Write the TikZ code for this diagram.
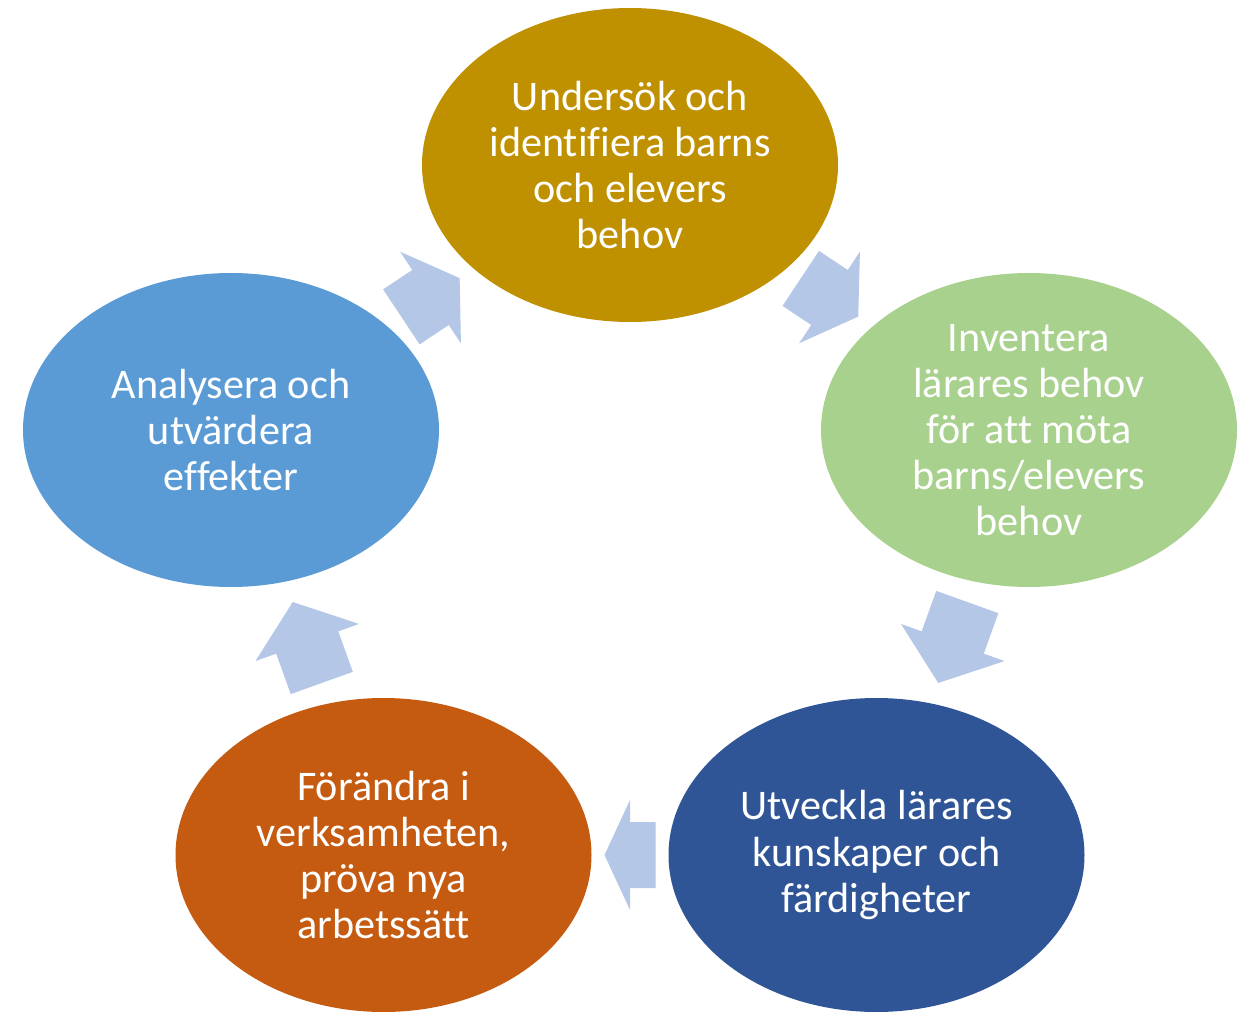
\documentclass[tikz,border=0pt]{standalone}
\usepackage{fontspec}
\setmainfont{Carlito}[Ligatures=NoCommon]
\usepackage{xcolor}
\usepackage{tikz}
\usetikzlibrary{shapes}
\usetikzlibrary{calc}

\definecolor{guld}{HTML}{BF9000}
\definecolor{gron}{HTML}{A9D18E}
\definecolor{morkbla}{HTML}{2F5597}
\definecolor{orange}{HTML}{C55A11}
\definecolor{bla}{HTML}{5B9BD5}
\definecolor{pilbla}{HTML}{B4C7E7}

\tikzset{
  blockarrow/.pic={
    \fill[pilbla] (-#1/2,-0.66) -- (0,-0.66) -- (0,-1.1) -- (#1/2,0)
      -- (0,1.1) -- (0,0.66) -- (-#1/2,0.66) -- cycle;
  }
}

\begin{document}
\begin{tikzpicture}
    \useasboundingbox (0,0) rectangle (24.96,20.22);
    \begin{scope}[every node/.style={ellipse,minimum width=8.32cm,minimum height=6.28cm,inner sep=0pt,text=white,align=center,font=\fontsize{24}{26.2}\selectfont}]
    \node[fill=guld] (und) at (12.60,16.92) {Undersök och\\identifiera barns\\och elevers\\behov};
    \node[fill=gron] (inv) at (20.58,11.62) {Inventera\\lärares behov\\för att möta\\barns/elevers\\behov};
    \node[fill=morkbla] (utv) at (17.53,3.12) {Utveckla lärares\\kunskaper och\\färdigheter};
    \node[fill=orange] (for) at (7.67,3.12) {Förändra i\\verksamheten,\\pröva nya\\arbetssätt};
    \node[fill=bla] (ana) at (4.62,11.62) {Analysera och\\utvärdera\\effekter};
    \end{scope}
    \path (ana) -- (und) pic[midway,sloped,allow upside down] {blockarrow=1.40};
    \path (und) -- (inv) pic[midway,sloped,allow upside down] {blockarrow=1.38};
    \path (inv) -- (utv) pic[midway,sloped,allow upside down] {blockarrow=1.72};
    \path (utv) -- (for) pic[midway,sloped,allow upside down] {blockarrow=1.02};
    \path (for) -- (ana) pic[midway,sloped,allow upside down] {blockarrow=1.72};
\end{tikzpicture}
\end{document}
